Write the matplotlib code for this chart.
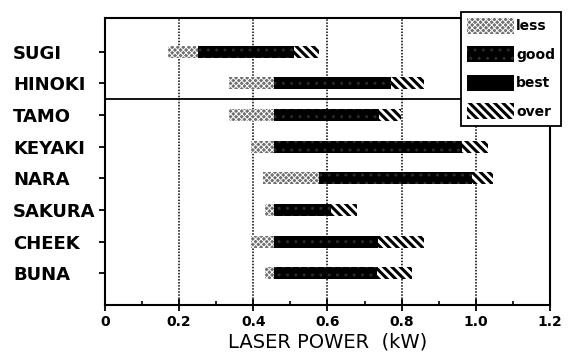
import matplotlib.pyplot as plt
from matplotlib.patches import Patch

plt.rcParams['font.family'] = ['DejaVu Sans']
plt.rcParams['hatch.linewidth'] = 2.2

# woods, top to bottom
woods = ['SUGI', 'HINOKI', 'TAMO', 'KEYAKI', 'NARA', 'SAKURA', 'CHEEK', 'BUNA']
less_start = [0.17, 0.335, 0.335, 0.395, 0.425, 0.432, 0.395, 0.432]
good_start = [0.25, 0.457, 0.457, 0.457, 0.577, 0.457, 0.457, 0.457]
over_start = [0.51, 0.772, 0.740, 0.962, 0.990, 0.610, 0.735, 0.733]
over_end = [0.577, 0.860, 0.798, 1.034, 1.045, 0.680, 0.859, 0.827]

xticks = [0, 0.2, 0.4, 0.6, 0.8, 1.0, 1.2]
xticklabels = ['0', '0.2', '0.4', '0.6', '0.8', '1.0', '1.2']

styles = {
    'less': dict(facecolor='#707070', edgecolor='white', hatch='xxxxxx', linewidth=0),
    'good': dict(facecolor='black', edgecolor='#2a2a2a', hatch='..', linewidth=0),
    'best': dict(facecolor='black', edgecolor='black', linewidth=0),
    'over': dict(facecolor='white', edgecolor='black', hatch='\\\\\\\\', linewidth=0),
}
hatch_lw = {'less': 0.7, 'good': 1.0, 'best': 1.0, 'over': 2.2}


def set_hlw(artist, lw):
    if hasattr(artist, 'set_hatch_linewidth'):
        artist.set_hatch_linewidth(lw)


fig = plt.figure(figsize=(5.7, 3.6), dpi=100)
ax = fig.add_axes([0.184, 0.153, 0.781, 0.797])

ypos = list(range(len(woods), 0, -1))
h = 0.38
for i, y in enumerate(ypos):
    segs = [('less', less_start[i], good_start[i]),
            ('good', good_start[i], over_start[i]),
            ('over', over_start[i], over_end[i])]
    for name, lo, hi in segs:
        bars = ax.barh(y, hi - lo, left=lo, height=h, **styles[name])
        for b in bars:
            set_hlw(b, hatch_lw[name])

for x in xticks[1:-1]:
    ax.axvline(x, color='black', linestyle=(0, (1.0, 1.0)), linewidth=1.1, zorder=0)
ax.axhline(6.5, color='black', linewidth=1.3)

ax.set_xlim(0, 1.2)
ax.set_ylim(0, 9.07)
ax.set_xticks(xticks)
ax.set_xticklabels(xticklabels, fontsize=10, fontweight='bold')
ax.set_xticks([0.1, 0.3, 0.5, 0.7, 0.9, 1.1], minor=True)
ax.set_yticks(ypos)
ax.set_yticklabels(woods, fontsize=13, fontweight='bold', ha='left')
ax.tick_params(axis='x', which='major', direction='inout', length=8, width=1.3, pad=3)
ax.tick_params(axis='x', which='minor', direction='in', length=3, width=1.2)
ax.tick_params(axis='y', direction='out', length=4.5, width=1.3, pad=61.7)
for s in ax.spines.values():
    s.set_linewidth(1.5)
ax.set_xlabel('LASER POWER  (kW)', fontsize=14, labelpad=3)

handles = [Patch(label=k, **v) for k, v in styles.items()]
leg = fig.legend(handles=handles, loc='upper right', bbox_to_anchor=(0.985, 0.968),
                 fancybox=False, edgecolor='black', framealpha=1,
                 prop={'size': 10, 'weight': 'bold'},
                 handlelength=3.4, handleheight=1.4, handletextpad=0.15,
                 labelspacing=0.9, borderpad=0.45, borderaxespad=0)
leg.get_frame().set_linewidth(1.3)
for p, k in zip(leg.get_patches(), styles):
    set_hlw(p, hatch_lw[k])

fig.savefig('out.png', dpi=100)
